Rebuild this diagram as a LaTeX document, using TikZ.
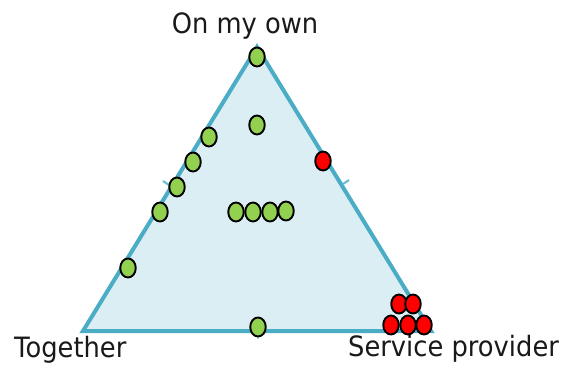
\documentclass[tikz,border=0pt]{standalone}
\usepackage{fontspec}
\setmainfont[FakeStretch=0.92]{DejaVu Sans}
\usetikzlibrary{shapes.geometric}
\definecolor{edgeblue}{HTML}{4BACC6}
\definecolor{fillblue}{HTML}{DAEEF3}
\definecolor{dotgreen}{HTML}{92D050}
\definecolor{dotred}{HTML}{FF0000}
\tikzset{
  dotbase/.style={ellipse, draw=black, line width=1.9pt, inner sep=0pt, minimum width=15.5pt, minimum height=19pt},
  gdot/.style={dotbase, fill=dotgreen},
  rdot/.style={dotbase, fill=dotred},
  edgeline/.style={draw=edgeblue, line width=4pt, line join=miter},
  tickmark/.style={draw=edgeblue!80, line width=2.2pt},
  lbl/.style={font=\fontsize{28}{32}\selectfont, text=black!90, inner sep=0pt}
}
\begin{document}
\begin{tikzpicture}[x=1pt,y=-1pt]
\useasboundingbox (0,0) rectangle (570,365);
% triangle corners
\coordinate (A) at (257,47);
\coordinate (B) at (83,331);
\coordinate (C) at (431,331);
\fill[fillblue] (A) -- (B) -- (C) -- cycle;
\draw[edgeline] (A) -- (B) -- (C) -- cycle;
% small tick marks at the edge midpoints
\coordinate (tr) at (343,184);
\coordinate (tre) at (349,180);
\coordinate (tl) at (169,185);
\coordinate (tle) at (163,181);
\coordinate (tb) at (258,333);
\coordinate (tbe) at (258,339);
\draw[tickmark] (tr) -- (tre);
\draw[tickmark] (tl) -- (tle);
\draw[tickmark, draw=edgeblue!50] (tb) -- (tbe);
% labels
\node[lbl, anchor=base] (own) at (245,33) {On my own};
\node[lbl, anchor=base west] (tog) at (14,357) {Together};
\node[lbl, anchor=base west] (serv) at (348,356) {Service provider};
% green dots
\node[gdot] (g1) at (257,57) {};
\node[gdot] (g2) at (257,125) {};
\node[gdot] (g3) at (209,137) {};
\node[gdot] (g4) at (193,162) {};
\node[gdot] (g5) at (177,187) {};
\node[gdot] (g6) at (160,212) {};
\node[gdot] (g7) at (128,268) {};
\node[gdot] (g8) at (236,212) {};
\node[gdot] (g9) at (253,212) {};
\node[gdot] (g10) at (270,212) {};
\node[gdot] (g11) at (286,211) {};
\node[gdot] (g12) at (258,327) {};
% red dots
\node[rdot] (r1) at (323,161) {};
\node[rdot] (r2) at (399,304) {};
\node[rdot] (r3) at (413,304) {};
\node[rdot] (r4) at (391,325) {};
\node[rdot] (r5) at (408,325) {};
\node[rdot] (r6) at (424,325) {};
\end{tikzpicture}
\end{document}
